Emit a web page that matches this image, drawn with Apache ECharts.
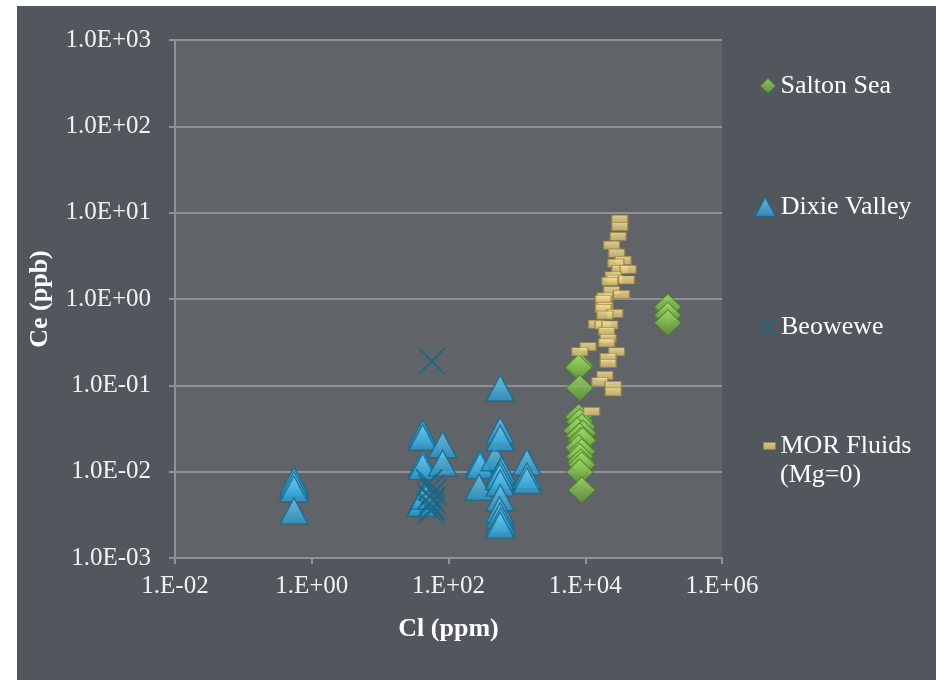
<!DOCTYPE html>
<html>
<head>
<meta charset="utf-8">
<script src="https://cdn.jsdelivr.net/npm/echarts@6/dist/echarts.min.js"></script>
<style>
  html, body { margin: 0; padding: 0; background: #ffffff; }
  #chart { width: 936px; height: 680px; }
</style>
</head>
<body>
<div id="chart"></div>
<script>
// Cl (ppm) vs Ce (ppb), both log scale
const saltonSea = [
  [8300, 0.17], [8000, 0.16], [8300, 0.093],
  [8000, 0.043], [8300, 0.038], [8900, 0.033], [7600, 0.030], [9200, 0.028],
  [8300, 0.026], [8600, 0.023], [9200, 0.023], [8000, 0.019], [8900, 0.017],
  [8300, 0.015], [8600, 0.013], [8900, 0.012], [8300, 0.0099], [8900, 0.0061],
  [161000, 0.81], [161000, 0.65], [161000, 0.53],
];
const dixieValley = [
  [0.55, 0.0079], [0.55, 0.0071], [0.55, 0.0063], [0.55, 0.0035],
  [42, 0.028], [42, 0.025], [42, 0.0126], [42, 0.0115], [42, 0.0047], [40, 0.0043], [45, 0.0052],
  [82, 0.0205], [82, 0.0126],
  [290, 0.0129], [290, 0.0118], [280, 0.0066],
  [480, 0.0145],
  [570, 0.093], [570, 0.030], [570, 0.0245], [600, 0.0105], [570, 0.0098], [560, 0.0088],
  [570, 0.0074], [570, 0.0050], [560, 0.0036], [570, 0.0031], [580, 0.0027], [570, 0.0024],
  [1400, 0.0129], [1400, 0.0089], [1400, 0.0079],
];
const beowewe = [
  [57, 0.19],
  [52, 0.0075], [56, 0.0065], [60, 0.0058], [54, 0.0052], [58, 0.0047],
  [55, 0.0042], [57, 0.0038], [56, 0.0035],
];
const morFluids = [
  [32000, 8.4], [32000, 6.9], [30300, 5.3], [24300, 4.2], [28700, 3.4], [35800, 2.8],
  [28000, 2.6], [32000, 2.2], [42400, 2.2], [25600, 1.85], [27100, 1.7], [40200, 1.66],
  [22900, 1.6], [24300, 1.25], [33900, 1.13], [19400, 1.06], [18300, 0.98], [19400, 0.82],
  [18300, 0.78], [27100, 0.68], [19400, 0.65], [14600, 0.51], [18300, 0.50], [22900, 0.50],
  [20500, 0.42], [21600, 0.35], [20500, 0.31], [11000, 0.28], [8300, 0.245], [28700, 0.245],
  [21600, 0.21], [21600, 0.18], [19400, 0.13], [16300, 0.11], [25600, 0.10], [25600, 0.084],
  [12400, 0.050],
];

const FONT = "Liberation Serif";
const gridClr = "#8f9195";

const grad = (top, bottom) => ({
  type: "linear", x: 0, y: 0, x2: 0, y2: 1,
  colorStops: [{ offset: 0, color: top }, { offset: 1, color: bottom }],
});

const expStr = v => {
  const e = Math.round(Math.log10(v));
  return (e < 0 ? "-" : "+") + String(Math.abs(e)).padStart(2, "0");
};

const styles = {
  salton: { color: grad("#a6dc70", "#5c9a2e"), borderColor: "#4a7d24", borderWidth: 1 },
  dixie:  { color: grad("#72cdf2", "#2896cc"), borderColor: "#17698f", borderWidth: 1.5 },
  beo:    { color: "rgba(0,0,0,0)", borderColor: "#1a6788", borderWidth: 2 },
  mor:    { color: grad("#f7e7a8", "#d6b964"), borderColor: "#9e823c", borderWidth: 1 },
};
const crossPath = "path://M0,0L10,10M10,0L0,10";

const legendBase = {
  orient: "vertical", padding: 0,
  textStyle: { fontFamily: FONT, fontSize: 26, color: "#ffffff", lineHeight: 30 },
};

const chart = echarts.init(document.getElementById("chart"));
chart.setOption({
  animation: false,
  backgroundColor: "#ffffff",
  graphic: [
    { type: "rect", z: -10, shape: { x: 17, y: 6, width: 919, height: 674 }, style: { fill: "#52565d" } },
    { type: "text", left: 780, top: 462, style: { text: "(Mg=0)", font: `26px "${FONT}"`, fill: "#ffffff" } },
  ],
  grid: {
    left: 175, right: 214, top: 40, bottom: 122,
    show: true, backgroundColor: "#606368", borderWidth: 0,
  },
  legend: [
    { ...legendBase, left: 760, top: 71, itemWidth: 15, itemHeight: 15,
      data: [{ name: "Salton Sea", icon: "diamond", itemStyle: styles.salton }] },
    { ...legendBase, left: 754, top: 192, itemWidth: 21, itemHeight: 19,
      data: [{ name: "Dixie Valley", icon: "triangle", itemStyle: styles.dixie }] },
    { ...legendBase, left: 758, top: 312, itemWidth: 17, itemHeight: 17,
      data: [{ name: "Beowewe", icon: crossPath, itemStyle: styles.beo }] },
    { ...legendBase, left: 763, top: 431, itemWidth: 12, itemHeight: 7,
      data: [{ name: "MOR Fluids", icon: "rect", itemStyle: styles.mor }] },
  ],
  xAxis: {
    type: "log", logBase: 10, min: 0.01, max: 1e6, interval: 2,
    name: "Cl (ppm)", nameLocation: "middle", nameGap: 58,
    nameTextStyle: { fontFamily: FONT, fontSize: 26, fontWeight: "bold", color: "#ffffff" },
    axisLine: { show: true, lineStyle: { color: gridClr, width: 2 } },
    axisTick: { show: true, length: 6, lineStyle: { color: gridClr, width: 2 } },
    minorTick: { show: false },
    splitLine: { show: false },
    axisLabel: {
      margin: 16, fontFamily: FONT, fontSize: 25, color: "#f2f2f2",
      formatter: v => "1.E" + expStr(v),
    },
  },
  yAxis: {
    type: "log", logBase: 10, min: 0.001, max: 1000, interval: 1,
    name: "Ce (ppb)", nameLocation: "middle", nameGap: 122,
    nameTextStyle: { fontFamily: FONT, fontSize: 26, fontWeight: "bold", color: "#ffffff" },
    axisLine: { show: true, lineStyle: { color: gridClr, width: 2 } },
    axisTick: { show: true, length: 6, lineStyle: { color: gridClr, width: 2 } },
    splitLine: { show: true, lineStyle: { color: gridClr, width: 2 } },
    axisLabel: {
      margin: 24, fontFamily: FONT, fontSize: 25, color: "#f2f2f2",
      formatter: v => "1.0E" + expStr(v),
    },
  },
  series: [
    { name: "Salton Sea", type: "scatter", data: saltonSea, symbol: "diamond",
      symbolSize: [27, 26], itemStyle: styles.salton },
    { name: "Dixie Valley", type: "scatter", data: dixieValley, symbol: "triangle",
      symbolSize: [28, 26], itemStyle: styles.dixie },
    { name: "Beowewe", type: "scatter", data: beowewe, symbol: crossPath,
      symbolSize: 26, itemStyle: styles.beo },
    { name: "MOR Fluids", type: "scatter", data: morFluids, symbol: "rect",
      symbolSize: [16, 8], itemStyle: styles.mor },
  ],
});
</script>
</body>
</html>
